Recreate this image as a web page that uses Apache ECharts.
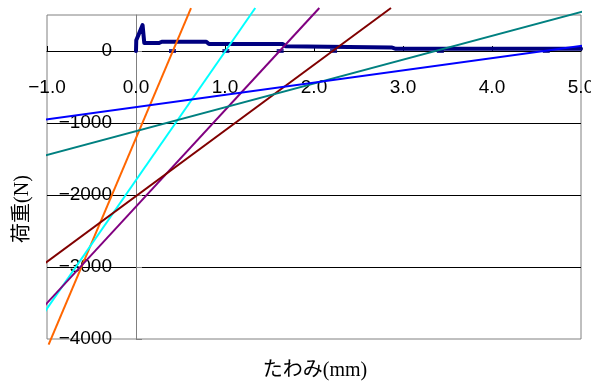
<!DOCTYPE html>
<html>
<head>
<meta charset="utf-8">
<script src="https://cdn.jsdelivr.net/npm/echarts@6/dist/echarts.min.js"></script>
<style>
html,body{margin:0;padding:0;background:#fff;}
#c{width:591px;height:385px;}
</style>
</head>
<body>
<div id="c"></div>
<script>
// Load–deflection curve (deflection mm, load N)
const loadX = [0, 0.003, 0.074, 0.093, 0.26, 0.29, 0.79, 0.82, 1.65, 1.68, 2.87, 2.92, 5.0];
const loadY = [0, 150, 360, 111, 111, 128, 128, 97, 97, 65, 50, 30, 30];

// Straight reference lines: start / end points
const lineColors = ['#FF6600', '#00FFFF', '#800080', '#800000', '#008080', '#0000FF'];
const lineX1 = [-0.982, -1.087, -1.087, -1.087, -1.087, -1.087];
const lineY1 = [-4079, -3732, -3617, -3006, -1472, -964];
const lineX2 = [0.618, 1.340, 2.06, 2.865, 5.1, 5.1];
const lineY2 = [597, 597, 597, 597, 574, 87.5];

// Markers where lines cross the zero-load axis
const markX = [0.41, 1.01, 1.62, 2.22, 3.42, 4.61];
const markY = [0, 0, 0, 0, 0, 0];

const xTicks = { min: -1, max: 5, interval: 1 };
const yTicks = { min: -4000, max: 500, interval: 1000 };

const fmtMinus = s => s.replace('-', '\u2212');

const series = [];
series.push({
  type: 'line',
  data: loadX.map((x, i) => [x, loadY[i]]),
  showSymbol: false,
  lineStyle: { color: '#000080', width: 4, join: 'round', cap: 'round' },
  itemStyle: { color: '#000080' },
  z: 2,
  clip: false
});
series.push({
  type: 'scatter',
  data: markX.map((x, i) => [x, markY[i]]),
  symbol: 'rect',
  symbolSize: [7, 4],
  itemStyle: { color: '#000080' },
  z: 3,
  clip: false
});
lineColors.forEach((c, i) => {
  series.push({
    type: 'line',
    data: [[lineX1[i], lineY1[i]], [lineX2[i], lineY2[i]]],
    showSymbol: false,
    lineStyle: { color: c, width: 2 },
    itemStyle: { color: c },
    z: 4,
    clip: false
  });
});

const chart = echarts.init(document.getElementById('c'), null, { renderer: 'canvas' });
chart.setOption({
  animation: false,
  backgroundColor: '#fff',
  grid: {
    left: 47, right: 10, top: 15, bottom: 46,
    containLabel: false, outerBoundsMode: 'none',
    show: true, borderColor: '#808080', borderWidth: 1, backgroundColor: 'transparent'
  },
  xAxis: {
    type: 'value', position: 'bottom', offset: -288,
    min: xTicks.min, max: xTicks.max, interval: xTicks.interval,
    axisLine: { show: true, onZero: false, lineStyle: { color: '#000', width: 1 } },
    axisTick: { show: true, inside: true, length: 5, lineStyle: { color: '#000' } },
    axisLabel: {
      margin: 27, color: '#000', fontSize: 19, fontFamily: 'Liberation Sans, Arial, sans-serif',
      hideOverlap: false,
      formatter: v => fmtMinus(v.toFixed(1))
    },
    splitLine: { show: false }
  },
  yAxis: {
    type: 'value', position: 'left', offset: -89,
    min: yTicks.min, max: yTicks.max, interval: yTicks.interval,
    axisLine: { show: true, onZero: false, lineStyle: { color: '#808080', width: 1 } },
    axisTick: { show: true, inside: true, length: 6, lineStyle: { color: '#808080' } },
    axisLabel: {
      margin: 24, color: '#000', fontSize: 19, fontFamily: 'Liberation Sans, Arial, sans-serif',
      showMaxLabel: false, hideOverlap: false,
      formatter: v => (v === yTicks.max ? '' : fmtMinus(String(v)))
    },
    splitLine: { show: true, showMinLine: false, showMaxLine: false, lineStyle: { color: '#000', width: 1 } }
  },
  graphic: [
    {
      type: 'text', x: 23, y: 209, rotation: Math.PI / 2,
      style: { text: '荷重(N)', fill: '#000', font: '20px "Liberation Serif", "Noto Sans CJK JP", serif', textAlign: 'center', textVerticalAlign: 'middle' }
    },
    {
      type: 'text', x: 315, y: 371,
      style: { text: 'たわみ(mm)', fill: '#000', font: '20px "Liberation Serif", "Noto Sans CJK JP", serif', textAlign: 'center', textVerticalAlign: 'middle' }
    }
  ],
  series: series
});
</script>
</body>
</html>
